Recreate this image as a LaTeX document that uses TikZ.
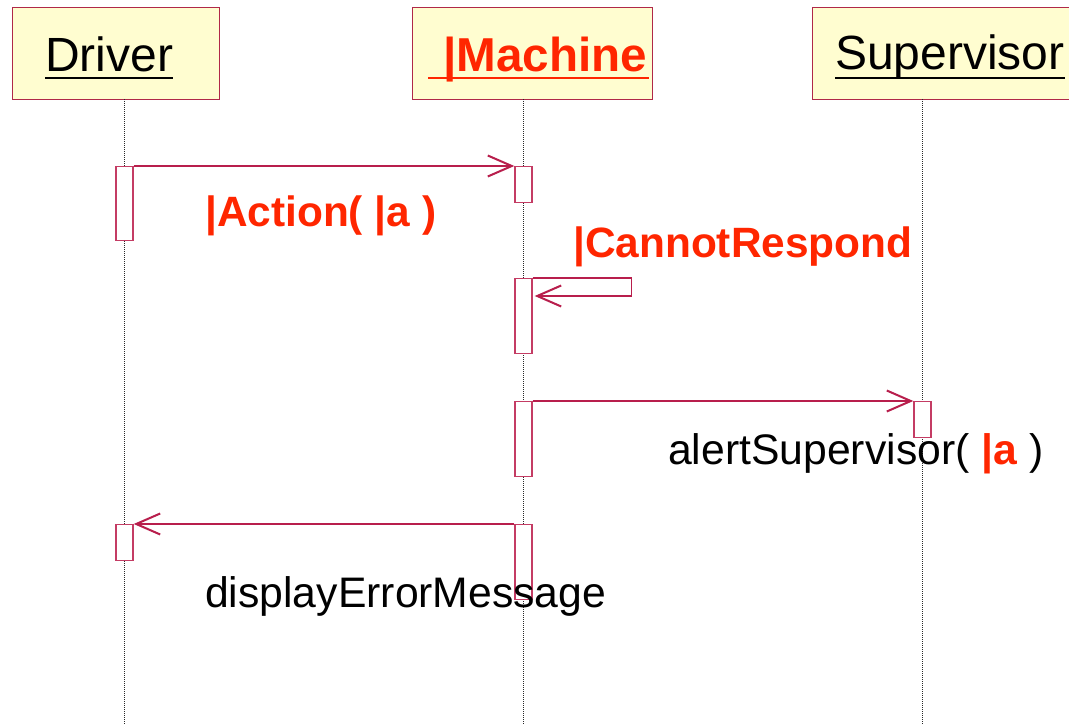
\documentclass[tikz,border=0pt]{standalone}
\usepackage{fontspec}
\setmainfont{Liberation Sans}
\usetikzlibrary{arrows.meta}
\definecolor{boxfill}{RGB}{255,253,208}
\definecolor{boxline}{RGB}{176,40,72}
\definecolor{msgline}{RGB}{184,30,76}
\definecolor{actline}{RGB}{196,60,100}
\definecolor{hot}{RGB}{255,38,0}
\definecolor{lifegray}{RGB}{40,40,40}
\begin{document}
\begin{tikzpicture}[x=1pt,y=-1pt,
  objbox/.style={draw=boxline, fill=boxfill, line width=1.2pt,
    minimum width=#1, minimum height=92pt, inner sep=0pt, anchor=north west},
  hdr/.style={font=\fontsize{48}{56}\selectfont, inner sep=0pt, anchor=base west},
  ul/.style={line width=2.6pt},
  life/.style={draw=lifegray, line width=1pt, dash pattern=on 1pt off 1pt},
  act/.style={draw=actline, fill=white, line width=1.4pt, minimum width=17pt,
    minimum height=#1, inner sep=0pt, anchor=north},
  msg/.style={draw=msgline, line width=1.5pt,
    -{Straight Barb[length=24pt,width=21pt,line width=2pt]}},
  lbl/.style={font=\fontsize{42.7}{48}\selectfont, inner sep=0pt, anchor=base west},
  hotlbl/.style={lbl, font=\fontsize{42.4}{48}\selectfont\bfseries, text=hot}]

\clip (0,0) rectangle (1069,725);
\fill[white] (0,0) rectangle (1069,725);
\coordinate (bottom) at (0,725);

% object boxes
\node[objbox=207] (drvbox) at (12,7) {};
\node[objbox=240] (macbox) at (412,7) {};
\node[objbox=300] (supbox) at (812,7) {};

% lifeline anchors
\coordinate (ldrv) at (124.5,99);
\coordinate (lmac) at (523.5,99);
\coordinate (lsup) at (922.5,99);

% lifelines
\draw[life] (ldrv) -- (ldrv |- bottom);
\draw[life] (lmac) -- (lmac |- bottom);
\draw[life] (lsup) -- (lsup |- bottom);

% object names, underlined
\node[hdr] (drvname) at (45,71) {Driver};
\draw[ul] ([shift={(0,7)}]drvname.base west) -- ([shift={(0,7)}]drvname.base east);
\node[hdr, font=\fontsize{47.6}{56}\selectfont\bfseries, text=hot] (macname) at (443,71) {|Machine};
\draw[ul, hot] ([shift={(-15,7)}]macname.base west) -- ([shift={(2,7)}]macname.base east);
\node[hdr] (supname) at (835,70) {Supervisor};
\draw[ul] ([shift={(0,8)}]supname.base west) -- ([shift={(0,8)}]supname.base east);

% activations
\node[act=74] (da1) at (124.5,166) {};
\node[act=36] (ma1) at (523.5,166) {};
\node[act=75] (ma2) at (523.5,278) {};
\node[act=75] (ma3) at (523.5,401) {};
\node[act=36] (sa1) at (922.5,401) {};
\node[act=36] (da2) at (124.5,524) {};
\node[act=75] (ma4) at (523.5,524) {};

% messages
\draw[msg] (da1.north east) -- (ma1.north west);
\draw[msg] (ma2.north east) -- ++(99,0) -- ++(0,18) -- ([shift={(2,18)}]ma2.north east);
\draw[msg] (ma3.north east) -- (sa1.north west);
\draw[msg] (ma4.north west) -- (da2.north east);

% message labels
\node[hotlbl] (lact) at (205,226) {|Action( |a )};
\node[hotlbl] (lcan) at (573,257) {|CannotRespond};
\node[lbl] (lalert) at (668,464) {alertSupervisor( {\bfseries\color{hot}|a} )};
\node[lbl] (ldisp) at (205,607) {displayErrorMessage};
\end{tikzpicture}
\end{document}
